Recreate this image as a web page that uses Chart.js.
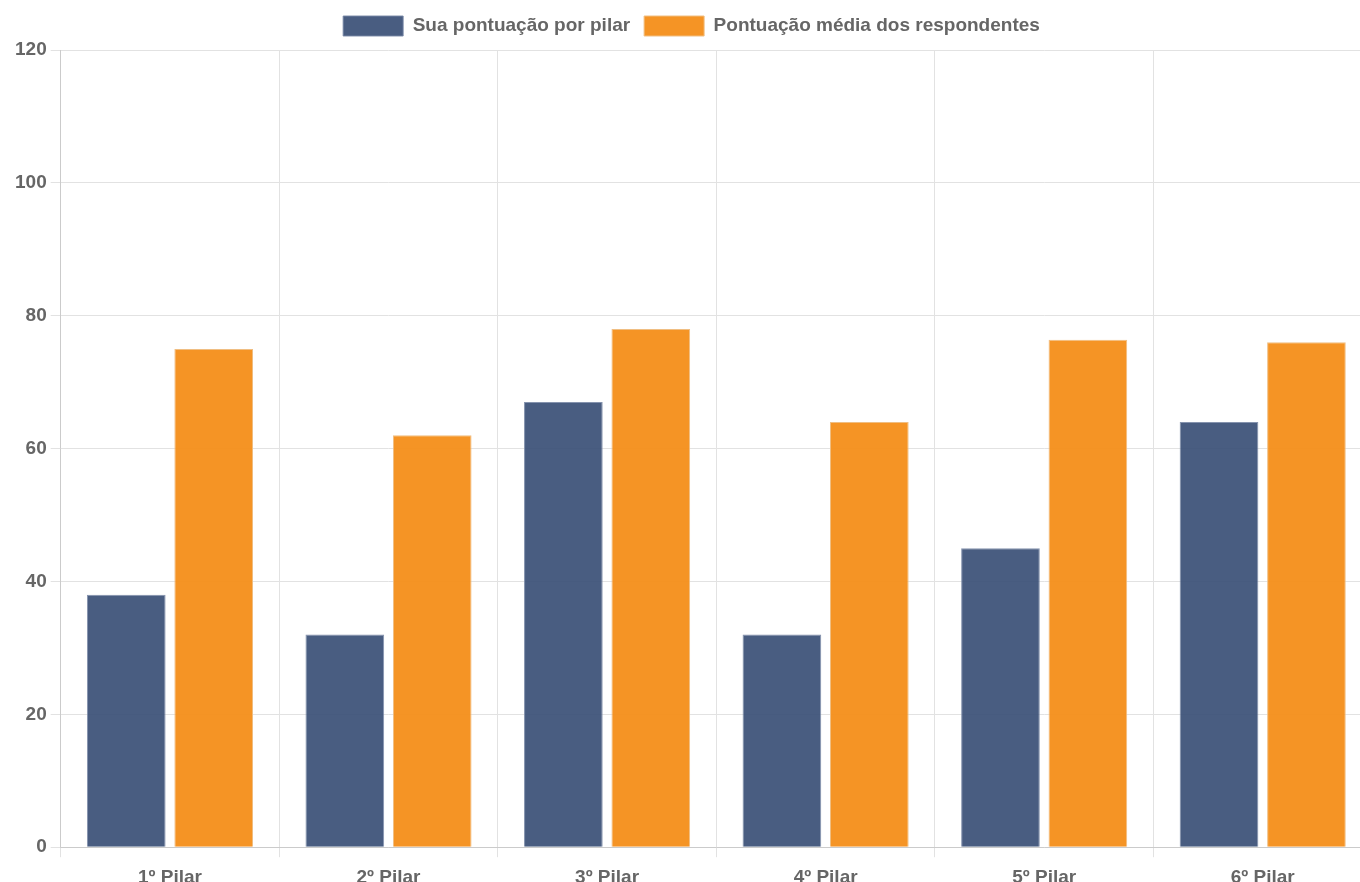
<!DOCTYPE html>
<html><head><meta charset="utf-8">
<script src="https://cdn.jsdelivr.net/npm/chart.js@4"></script>
<style>html,body{margin:0;padding:0;overflow:hidden;background:#fff}#wrap{width:1372px;height:898px;position:relative}</style>
</head><body>
<div id="wrap"><canvas id="c"></canvas></div>
<script>
const categories = ['1º Pilar','2º Pilar','3º Pilar','4º Pilar','5º Pilar','6º Pilar'];
const seriesNames = ['Sua pontuação por pilar','Pontuação média dos respondentes'];
const yourScore = [38, 32, 67, 32, 45, 64];
const avgScore = [75, 62, 78, 64, 76.4, 76];
const yTicks = [0, 20, 40, 60, 80, 100, 120];

Chart.defaults.font.family = '"Liberation Sans", Arial, sans-serif';
Chart.defaults.font.weight = 'bold';
Chart.defaults.font.size = 19;
Chart.defaults.color = '#666';

const legendSpacer = {
  id: 'legendSpacer',
  beforeInit(chart) {
    const origFit = chart.legend.fit;
    chart.legend.fit = function () { origFit.call(this); this.height += 4; };
  }
};

new Chart(document.getElementById('c'), {
  type: 'bar',
  plugins: [legendSpacer],
  data: {
    labels: categories,
    datasets: [
      {label: seriesNames[0], data: yourScore, backgroundColor: 'rgba(58,79,118,0.92)', borderColor: 'rgba(120,135,165,0.9)', borderWidth: 1},
      {label: seriesNames[1], data: avgScore, backgroundColor: 'rgba(245,145,30,0.97)', borderColor: 'rgba(240,190,130,1)', borderWidth: 1}
    ]
  },
  options: {
    responsive: true,
    maintainAspectRatio: false,
    animation: false,
    layout: {padding: {left: 11, right: 0, top: 2, bottom: 0}},
    plugins: {
      legend: {labels: {boxWidth: 60, boxHeight: 20, padding: 14, font: {size: 19, weight: 'bold'}}},
      tooltip: {enabled: false}
    },
    scales: {
      x: {grid: {color: '#e2e2e2', offset: true, tickLength: 10}, ticks: {font: {size: 19, weight: 'bold'}, padding: 9}},
      y: {min: 0, max: 120, afterBuildTicks: (s) => { s.ticks = yTicks.map(v => ({value: v})); },
          grid: {color: '#e2e2e2', tickLength: 10}, ticks: {font: {size: 19, weight: 'bold'}, padding: 4}}
    }
  }
});
</script>
</body></html>
